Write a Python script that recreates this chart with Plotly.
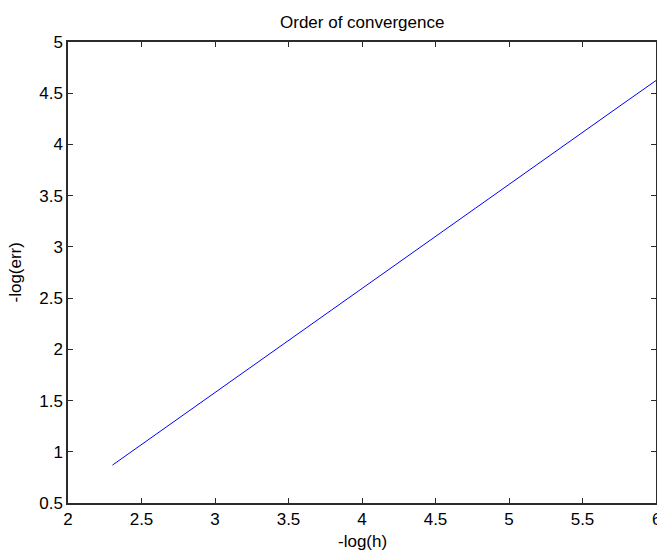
import plotly.graph_objects as go

# Convergence study: -log(h) against -log(err)
neg_log_h = [2.3026, 2.9957, 3.6889, 4.3820, 5.0752, 5.7683, 6.4615]
neg_log_err = [0.87, 1.575, 2.28, 2.985, 3.69, 4.39, 5.09]

x_ticks = [2, 2.5, 3, 3.5, 4, 4.5, 5, 5.5, 6]
y_ticks = [0.5, 1, 1.5, 2, 2.5, 3, 3.5, 4, 4.5, 5]

W, H = 657, 550
ML, MR, MT, MB = 68, 1, 42, 47

font = dict(family="Liberation Sans, Arial, sans-serif", size=17, color="#000000")
axis_col = "#2b2b2b"

fig = go.Figure(
    go.Scatter(
        x=neg_log_h, y=neg_log_err, mode="lines",
        line=dict(color="#0000ff", width=1),
        hoverinfo="skip", cliponaxis=True,
    )
)

common = dict(
    showgrid=False, zeroline=False, automargin=False,
    showline=True, linecolor=axis_col, linewidth=1.5, mirror="ticks",
    ticks="inside", ticklen=5, tickcolor=axis_col, tickwidth=1.2,
    tickfont=font,
)

fig.update_xaxes(range=[2, 6], tickvals=x_ticks,
                 ticktext=[f"{v:g}" for v in x_ticks], **common)
fig.update_yaxes(range=[0.5, 5], tickvals=y_ticks,
                 ticktext=[f"{v:g}" for v in y_ticks], **common)

annotations = [
    dict(text="Order of convergence", xref="paper", yref="paper",
         x=0.5, y=1, yshift=20, showarrow=False, font=font,
         xanchor="center", yanchor="middle"),
    dict(text="-log(h)", xref="paper", yref="paper",
         x=0.5, y=0, yshift=-38, showarrow=False, font=font,
         xanchor="center", yanchor="middle"),
    dict(text="-log(err)", xref="paper", yref="paper",
         x=0, y=0.5, xshift=-53, showarrow=False, font=font,
         textangle=-90, xanchor="center", yanchor="middle"),
    # last x tick label sits on the figure's right edge and runs off it
    dict(text=f"{x_ticks[-1]:g}", xref="x", yref="paper",
         x=x_ticks[-1], y=0, yshift=-16, showarrow=False, font=font,
         xanchor="center", yanchor="middle"),
]

fig.update_layout(
    width=W, height=H,
    margin=dict(l=ML, r=MR, t=MT, b=MB, pad=0, autoexpand=False),
    paper_bgcolor="white", plot_bgcolor="white",
    showlegend=False, font=font,
    annotations=annotations,
)

fig.write_html("out.html")
